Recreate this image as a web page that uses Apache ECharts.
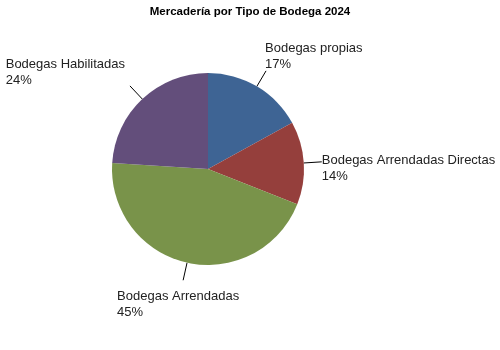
<!DOCTYPE html>
<html><head><meta charset="utf-8">
<script src="https://cdn.jsdelivr.net/npm/echarts@6/dist/echarts.min.js"></script>
<style>html,body{margin:0;padding:0;background:#fff}#c{width:500px;height:350px}</style>
</head><body><div id="c"></div>
<script>
var title = 'Mercadería por Tipo de Bodega 2024';
var categories = ['Bodegas propias', 'Bodegas Arrendadas Directas', 'Bodegas Arrendadas', 'Bodegas Habilitadas'];
var values = [17, 14, 45, 24];
var colors = ['#3E6494', '#953F3C', '#79934A', '#634E7B'];

var chart = echarts.init(document.getElementById('c'));
var data = categories.map(function (c, i) { return { name: c, value: values[i], itemStyle: { color: colors[i] } }; });
chart.setOption({
  animation: false,
  title: { text: title, left: 'center', top: 1, textStyle: { fontFamily: 'Liberation Sans', fontSize: 11.5, fontWeight: 'bold', color: '#000' } },
  series: [{
    type: 'pie',
    center: [208, 169],
    radius: 96,
    startAngle: 90,
    clockwise: true,
    avoidLabelOverlap: false,
    data: data,
    itemStyle: { borderWidth: 0 },
    label: {
      show: true, position: 'outside', formatter: '{b}\n{d}%',
      fontFamily: 'Liberation Sans', fontSize: 13, lineHeight: 16, color: '#222', align: 'left'
    },
    labelLine: { show: true, length: 18, length2: 0, smooth: false, lineStyle: { color: '#000', width: 1 } },
    labelLayout: function (p) {
      var pts = p.labelLinePoints;
      var end = pts[1];
      var w = p.labelRect.width;
      var i = p.dataIndex;
      if (i === 0) return { x: end[0] - 1, y: end[1] + 2, align: 'left', verticalAlign: 'bottom', labelLinePoints: pts };
      if (i === 1) return { x: end[0], y: end[1] + 7, align: 'left', verticalAlign: 'middle', labelLinePoints: pts };
      if (i === 2) return { x: end[0] - w / 2 - 5, y: end[1] + 8, align: 'left', verticalAlign: 'top', labelLinePoints: pts };
      return { x: end[0] - 5 - w, y: end[1] + 3, align: 'left', verticalAlign: 'bottom', labelLinePoints: pts };
    }
  }]
});
</script></body></html>
